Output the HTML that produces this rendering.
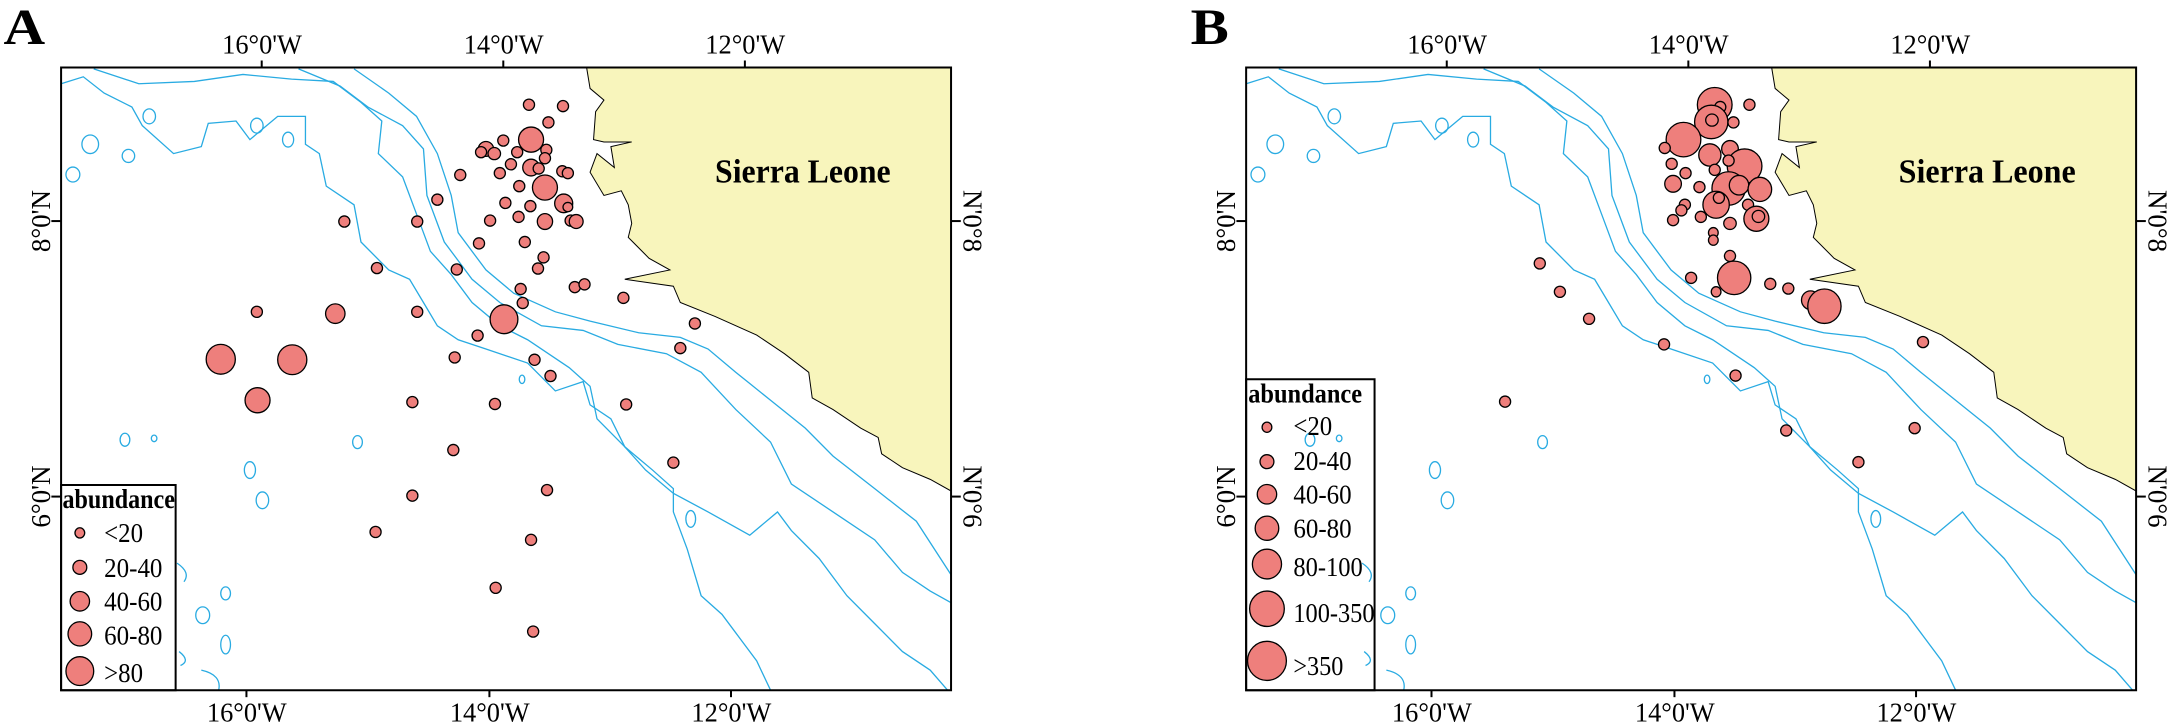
<!DOCTYPE html>
<html><head><meta charset="utf-8"><style>
html,body{margin:0;padding:0;background:#fff;}
svg{display:block;}
text{font-family:"Liberation Serif",serif;fill:#000;}
.c{fill:#ee7f7c;stroke:#000;stroke-width:1.3;vector-effect:non-scaling-stroke;}
.k{fill:none;stroke:#29abe2;stroke-width:1.3;vector-effect:non-scaling-stroke;}
.f{fill:none;stroke:#000;stroke-width:2;vector-effect:non-scaling-stroke;}
.l{fill:#f8f5bc;stroke:#000;stroke-width:1;vector-effect:non-scaling-stroke;}
</style></head><body>
<svg width="2167" height="726" viewBox="0 0 2167 726" xmlns="http://www.w3.org/2000/svg">
<defs>
<g id="map">
<path class="l" d="M845,145 L850,190 L870,215 L858,240 L855,300 L870,305 L910,305 L880,315 L885,360 L860,330 L850,370 L870,420 L895,410 L905,440 L910,480 L905,510 L935,555 L965,580 L900,600 L970,615 L980,650 L1030,680 L1090,720 L1130,760 L1165,800 L1170,855 L1200,880 L1240,920 L1265,940 L1270,975 L1300,1005 L1340,1030 L1370,1055 L1370,145 Z"/>
<path class="k" d="M510,148 L560,200 L600,250 L630,330 L650,420 L660,500 L700,580 L740,630 L800,670 L850,690 L920,715 L980,725 L1020,750 L1060,800 L1110,860 L1160,920 L1200,980 L1260,1050 L1320,1120 L1370,1235"/>
<path class="k" d="M430,148 L490,185 L530,230 L580,270 L610,320 L615,420 L640,520 L680,600 L720,650 L780,700 L840,710 L890,740 L960,760 L1010,800 L1060,880 L1110,950 L1140,1040 L1200,1100 L1260,1160 L1300,1230 L1340,1270 L1370,1295"/>
<path class="k" d="M135,148 L200,180 L280,175 L350,160 L420,170 L480,175 L520,220 L550,260 L545,330 L580,380 L600,460 L620,540 L650,590 L680,650 L720,700 L760,730 L790,760 L820,790 L850,830 L860,900 L900,960 L930,1010 L970,1060 L1020,1100 L1080,1150 L1120,1100 L1140,1140 L1180,1200 L1220,1280 L1260,1340 L1300,1400 L1340,1440 L1365,1483"/>
<path class="k" d="M88,180 L120,165 L150,200 L190,230 L205,270 L250,330 L290,315 L300,265 L340,260 L360,300 L400,250 L440,250 L440,310 L460,330 L470,400 L510,440 L520,520 L560,580 L590,600 L610,650 L630,700 L660,730 L700,750 L760,780 L800,840 L840,820 L850,870 L880,900 L900,960 L940,1010 L970,1050 L970,1100 L990,1180 L1010,1280 L1040,1320 L1060,1360 L1090,1420 L1110,1483"/>
<ellipse class="k" cx="130" cy="310" rx="12" ry="20"/>
<ellipse class="k" cx="105" cy="375" rx="10" ry="16"/>
<ellipse class="k" cx="215" cy="250" rx="9" ry="16"/>
<ellipse class="k" cx="185" cy="335" rx="9" ry="14"/>
<ellipse class="k" cx="370" cy="270" rx="9" ry="16"/>
<ellipse class="k" cx="415" cy="300" rx="8" ry="16"/>
<ellipse class="k" cx="180" cy="945" rx="7" ry="14"/>
<ellipse class="k" cx="222" cy="942" rx="4" ry="7"/>
<ellipse class="k" cx="515" cy="950" rx="7" ry="14"/>
<ellipse class="k" cx="360" cy="1010" rx="8" ry="18"/>
<ellipse class="k" cx="378" cy="1075" rx="9" ry="18"/>
<ellipse class="k" cx="325" cy="1275" rx="7" ry="14"/>
<ellipse class="k" cx="292" cy="1322" rx="10" ry="18"/>
<ellipse class="k" cx="325" cy="1385" rx="7" ry="20"/>
<ellipse class="k" cx="995" cy="1115" rx="7" ry="18"/>
<ellipse class="k" cx="752" cy="815" rx="4" ry="9"/>
<path class="k" d="M255,1210 Q275,1230 265,1250 M258,1400 Q275,1420 260,1430 M290,1440 Q320,1450 315,1483"/>
<rect class="f" x="88" y="145" width="1282" height="1338"/>
</g>
</defs>

<!-- Panel A -->
<g transform="scale(0.6942,0.4654)">
<use href="#map"/>
<line x1="377" y1="130" x2="377" y2="145" class="f"/><line x1="725" y1="130" x2="725" y2="145" class="f"/><line x1="1073" y1="130" x2="1073" y2="145" class="f"/>
<line x1="355" y1="1483" x2="355" y2="1498" class="f"/><line x1="705" y1="1483" x2="705" y2="1498" class="f"/><line x1="1053" y1="1483" x2="1053" y2="1498" class="f"/>
<line x1="74" y1="475" x2="88" y2="475" class="f"/><line x1="74" y1="1067" x2="88" y2="1067" class="f"/>
<line x1="1370" y1="475" x2="1384" y2="475" class="f"/><line x1="1370" y1="1067" x2="1384" y2="1067" class="f"/>
<text x="5" y="95" font-size="110" font-weight="bold" textLength="60" lengthAdjust="spacingAndGlyphs">A</text>
<text x="320" y="115" font-size="60" textLength="115" lengthAdjust="spacingAndGlyphs">16°0'W</text>
<text x="668" y="115" font-size="60" textLength="115" lengthAdjust="spacingAndGlyphs">14°0'W</text>
<text x="1016" y="115" font-size="60" textLength="115" lengthAdjust="spacingAndGlyphs">12°0'W</text>
<text x="298" y="1550" font-size="60" textLength="115" lengthAdjust="spacingAndGlyphs">16°0'W</text>
<text x="648" y="1550" font-size="60" textLength="115" lengthAdjust="spacingAndGlyphs">14°0'W</text>
<text x="996" y="1550" font-size="60" textLength="115" lengthAdjust="spacingAndGlyphs">12°0'W</text>
<g transform="translate(72,475) scale(1.4405,2.1487) rotate(-90)"><text x="0" y="0" font-size="27" text-anchor="middle">8°0'N</text></g>
<g transform="translate(72,1067) scale(1.4405,2.1487) rotate(-90)"><text x="0" y="0" font-size="27" text-anchor="middle">6°0'N</text></g>
<g transform="translate(1388,475) scale(1.4405,2.1487) rotate(90)"><text x="0" y="0" font-size="27" text-anchor="middle">N'0°8</text></g>
<g transform="translate(1388,1067) scale(1.4405,2.1487) rotate(90)"><text x="0" y="0" font-size="27" text-anchor="middle">N'0°6</text></g>
<text x="1030" y="392" font-size="72" font-weight="bold" textLength="253" lengthAdjust="spacingAndGlyphs">Sierra Leone</text>
<g>
<ellipse class="c" cx="762" cy="225" rx="8" ry="12"/><ellipse class="c" cx="811" cy="228" rx="8" ry="12"/><ellipse class="c" cx="790" cy="263" rx="8" ry="12"/>
<ellipse class="c" cx="765" cy="300" rx="18" ry="27"/><ellipse class="c" cx="725" cy="302" rx="8" ry="12"/><ellipse class="c" cx="787" cy="322" rx="8" ry="12"/>
<ellipse class="c" cx="700" cy="320" rx="11" ry="16"/><ellipse class="c" cx="712" cy="330" rx="9" ry="13"/><ellipse class="c" cx="693" cy="327" rx="8" ry="12"/>
<ellipse class="c" cx="745" cy="327" rx="8" ry="12"/><ellipse class="c" cx="785" cy="340" rx="8" ry="12"/><ellipse class="c" cx="736" cy="353" rx="8" ry="12"/>
<ellipse class="c" cx="765" cy="360" rx="12" ry="18"/><ellipse class="c" cx="776" cy="362" rx="8" ry="12"/><ellipse class="c" cx="720" cy="372" rx="8" ry="12"/>
<ellipse class="c" cx="810" cy="368" rx="8" ry="12"/><ellipse class="c" cx="818" cy="372" rx="8" ry="12"/><ellipse class="c" cx="663" cy="376" rx="8" ry="12"/>
<ellipse class="c" cx="785" cy="403" rx="18" ry="27"/><ellipse class="c" cx="748" cy="400" rx="8" ry="12"/><ellipse class="c" cx="812" cy="437" rx="13" ry="20"/>
<ellipse class="c" cx="818" cy="445" rx="7" ry="10"/><ellipse class="c" cx="728" cy="436" rx="8" ry="12"/><ellipse class="c" cx="764" cy="443" rx="8" ry="12"/>
<ellipse class="c" cx="630" cy="429" rx="8" ry="12"/><ellipse class="c" cx="496" cy="476" rx="8" ry="12"/><ellipse class="c" cx="601" cy="476" rx="8" ry="12"/>
<ellipse class="c" cx="706" cy="474" rx="8" ry="12"/><ellipse class="c" cx="747" cy="466" rx="8" ry="12"/><ellipse class="c" cx="785" cy="476" rx="11" ry="17"/>
<ellipse class="c" cx="822" cy="474" rx="8" ry="12"/><ellipse class="c" cx="830" cy="476" rx="10" ry="15"/><ellipse class="c" cx="690" cy="523" rx="8" ry="12"/>
<ellipse class="c" cx="756" cy="520" rx="8" ry="12"/><ellipse class="c" cx="783" cy="553" rx="8" ry="12"/><ellipse class="c" cx="775" cy="577" rx="8" ry="12"/>
<ellipse class="c" cx="543" cy="576" rx="8" ry="12"/><ellipse class="c" cx="658" cy="579" rx="8" ry="12"/><ellipse class="c" cx="750" cy="621" rx="8" ry="12"/>
<ellipse class="c" cx="753" cy="651" rx="8" ry="12"/><ellipse class="c" cx="828" cy="617" rx="8" ry="12"/><ellipse class="c" cx="842" cy="611" rx="8" ry="12"/>
<ellipse class="c" cx="898" cy="640" rx="8" ry="12"/><ellipse class="c" cx="370" cy="670" rx="8" ry="12"/><ellipse class="c" cx="483" cy="674" rx="14" ry="21"/>
<ellipse class="c" cx="601" cy="670" rx="8" ry="12"/><ellipse class="c" cx="726" cy="686" rx="20" ry="31"/><ellipse class="c" cx="688" cy="721" rx="8" ry="12"/>
<ellipse class="c" cx="1001" cy="695" rx="8" ry="12"/><ellipse class="c" cx="980" cy="748" rx="8" ry="12"/><ellipse class="c" cx="318" cy="772" rx="21" ry="32"/>
<ellipse class="c" cx="421" cy="773" rx="21" ry="32"/><ellipse class="c" cx="655" cy="768" rx="8" ry="12"/><ellipse class="c" cx="770" cy="773" rx="8" ry="12"/>
<ellipse class="c" cx="793" cy="808" rx="8" ry="12"/><ellipse class="c" cx="371" cy="860" rx="18" ry="27"/><ellipse class="c" cx="594" cy="864" rx="8" ry="12"/>
<ellipse class="c" cx="713" cy="868" rx="8" ry="12"/><ellipse class="c" cx="902" cy="869" rx="8" ry="12"/><ellipse class="c" cx="653" cy="967" rx="8" ry="12"/>
<ellipse class="c" cx="970" cy="994" rx="8" ry="12"/><ellipse class="c" cx="594" cy="1065" rx="8" ry="12"/><ellipse class="c" cx="788" cy="1053" rx="8" ry="12"/>
<ellipse class="c" cx="541" cy="1143" rx="8" ry="12"/><ellipse class="c" cx="765" cy="1160" rx="8" ry="12"/><ellipse class="c" cx="714" cy="1263" rx="8" ry="12"/>
<ellipse class="c" cx="768" cy="1357" rx="8" ry="12"/>
</g>
<rect x="88" y="1042" width="165" height="441" fill="#fff" class="f"/>
<text x="90" y="1092" font-size="58" font-weight="bold" textLength="162" lengthAdjust="spacingAndGlyphs">abundance</text>
<ellipse class="c" cx="115" cy="1145" rx="7" ry="11"/>
<ellipse class="c" cx="115" cy="1219" rx="10" ry="15"/>
<ellipse class="c" cx="115" cy="1292" rx="14" ry="21"/>
<ellipse class="c" cx="115" cy="1362" rx="17" ry="26"/>
<ellipse class="c" cx="115" cy="1442" rx="20" ry="31"/>
<text x="150" y="1165" font-size="58" textLength="56" lengthAdjust="spacingAndGlyphs">&lt;20</text>
<text x="150" y="1240" font-size="58" textLength="84" lengthAdjust="spacingAndGlyphs">20-40</text>
<text x="150" y="1312" font-size="58" textLength="84" lengthAdjust="spacingAndGlyphs">40-60</text>
<text x="150" y="1385" font-size="58" textLength="84" lengthAdjust="spacingAndGlyphs">60-80</text>
<text x="150" y="1465" font-size="58" textLength="56" lengthAdjust="spacingAndGlyphs">&gt;80</text>
</g>

<!-- Panel B -->
<g transform="translate(1083,0) scale(0.6942,0.4654)">
<g transform="translate(147,0)"><use href="#map"/></g>
<line x1="524" y1="130" x2="524" y2="145" class="f"/><line x1="872" y1="130" x2="872" y2="145" class="f"/><line x1="1220" y1="130" x2="1220" y2="145" class="f"/>
<line x1="502" y1="1483" x2="502" y2="1498" class="f"/><line x1="852" y1="1483" x2="852" y2="1498" class="f"/><line x1="1200" y1="1483" x2="1200" y2="1498" class="f"/>
<line x1="221" y1="475" x2="235" y2="475" class="f"/><line x1="221" y1="1067" x2="235" y2="1067" class="f"/>
<line x1="1517" y1="475" x2="1531" y2="475" class="f"/><line x1="1517" y1="1067" x2="1531" y2="1067" class="f"/>
<text x="155" y="95" font-size="110" font-weight="bold" textLength="55" lengthAdjust="spacingAndGlyphs">B</text>
<text x="467" y="115" font-size="60" textLength="115" lengthAdjust="spacingAndGlyphs">16°0'W</text>
<text x="815" y="115" font-size="60" textLength="115" lengthAdjust="spacingAndGlyphs">14°0'W</text>
<text x="1163" y="115" font-size="60" textLength="115" lengthAdjust="spacingAndGlyphs">12°0'W</text>
<text x="445" y="1550" font-size="60" textLength="115" lengthAdjust="spacingAndGlyphs">16°0'W</text>
<text x="795" y="1550" font-size="60" textLength="115" lengthAdjust="spacingAndGlyphs">14°0'W</text>
<text x="1143" y="1550" font-size="60" textLength="115" lengthAdjust="spacingAndGlyphs">12°0'W</text>
<g transform="translate(219,475) scale(1.4405,2.1487) rotate(-90)"><text x="0" y="0" font-size="27" text-anchor="middle">8°0'N</text></g>
<g transform="translate(219,1067) scale(1.4405,2.1487) rotate(-90)"><text x="0" y="0" font-size="27" text-anchor="middle">6°0'N</text></g>
<g transform="translate(1535,475) scale(1.4405,2.1487) rotate(90)"><text x="0" y="0" font-size="27" text-anchor="middle">N'0°8</text></g>
<g transform="translate(1535,1067) scale(1.4405,2.1487) rotate(90)"><text x="0" y="0" font-size="27" text-anchor="middle">N'0°6</text></g>
<text x="1175" y="392" font-size="72" font-weight="bold" textLength="255" lengthAdjust="spacingAndGlyphs">Sierra Leone</text>
<g>
<ellipse class="c" cx="910" cy="225" rx="25" ry="37"/><ellipse class="c" cx="918" cy="230" rx="8" ry="12"/><ellipse class="c" cx="905" cy="262" rx="24" ry="36"/>
<ellipse class="c" cx="906" cy="258" rx="9" ry="13"/><ellipse class="c" cx="960" cy="225" rx="8" ry="12"/><ellipse class="c" cx="937" cy="263" rx="8" ry="12"/>
<ellipse class="c" cx="865" cy="300" rx="25" ry="37"/><ellipse class="c" cx="838" cy="318" rx="8" ry="12"/><ellipse class="c" cx="932" cy="320" rx="12" ry="18"/>
<ellipse class="c" cx="903" cy="333" rx="16" ry="24"/><ellipse class="c" cx="953" cy="357" rx="25" ry="37"/><ellipse class="c" cx="930" cy="345" rx="8" ry="12"/>
<ellipse class="c" cx="848" cy="352" rx="8" ry="12"/><ellipse class="c" cx="910" cy="365" rx="8" ry="12"/><ellipse class="c" cx="868" cy="372" rx="8" ry="12"/>
<ellipse class="c" cx="850" cy="395" rx="12" ry="18"/><ellipse class="c" cx="888" cy="402" rx="8" ry="12"/><ellipse class="c" cx="930" cy="405" rx="24" ry="36"/>
<ellipse class="c" cx="945" cy="398" rx="14" ry="21"/><ellipse class="c" cx="975" cy="407" rx="17" ry="26"/><ellipse class="c" cx="912" cy="440" rx="19" ry="29"/>
<ellipse class="c" cx="916" cy="425" rx="8" ry="12"/><ellipse class="c" cx="958" cy="440" rx="8" ry="12"/><ellipse class="c" cx="867" cy="440" rx="8" ry="12"/>
<ellipse class="c" cx="862" cy="452" rx="8" ry="12"/><ellipse class="c" cx="890" cy="466" rx="8" ry="12"/><ellipse class="c" cx="970" cy="470" rx="18" ry="27"/>
<ellipse class="c" cx="973" cy="465" rx="9" ry="13"/><ellipse class="c" cx="932" cy="480" rx="9" ry="13"/><ellipse class="c" cx="850" cy="473" rx="8" ry="12"/>
<ellipse class="c" cx="908" cy="500" rx="7" ry="11"/><ellipse class="c" cx="908" cy="516" rx="7" ry="11"/><ellipse class="c" cx="932" cy="550" rx="8" ry="12"/>
<ellipse class="c" cx="938" cy="597" rx="24" ry="36"/><ellipse class="c" cx="876" cy="597" rx="8" ry="12"/><ellipse class="c" cx="912" cy="627" rx="7" ry="11"/>
<ellipse class="c" cx="990" cy="610" rx="8" ry="12"/><ellipse class="c" cx="1016" cy="620" rx="8" ry="12"/><ellipse class="c" cx="1048" cy="645" rx="13" ry="20"/>
<ellipse class="c" cx="1068" cy="658" rx="24" ry="37"/><ellipse class="c" cx="658" cy="566" rx="8" ry="12"/><ellipse class="c" cx="687" cy="627" rx="8" ry="12"/>
<ellipse class="c" cx="729" cy="685" rx="8" ry="12"/><ellipse class="c" cx="837" cy="740" rx="8" ry="12"/><ellipse class="c" cx="1210" cy="735" rx="8" ry="12"/>
<ellipse class="c" cx="940" cy="807" rx="8" ry="12"/><ellipse class="c" cx="608" cy="863" rx="8" ry="12"/><ellipse class="c" cx="1013" cy="925" rx="8" ry="12"/>
<ellipse class="c" cx="1198" cy="920" rx="8" ry="12"/><ellipse class="c" cx="1117" cy="993" rx="8" ry="12"/>
</g>
<rect x="235" y="815" width="185" height="668" fill="#fff" class="f"/>
<text x="238" y="865" font-size="58" font-weight="bold" textLength="164" lengthAdjust="spacingAndGlyphs">abundance</text>
<ellipse class="c" cx="265" cy="918" rx="7" ry="11"/>
<ellipse class="c" cx="265" cy="992" rx="10" ry="15"/>
<ellipse class="c" cx="265" cy="1062" rx="14" ry="21"/>
<ellipse class="c" cx="265" cy="1135" rx="17" ry="26"/>
<ellipse class="c" cx="265" cy="1212" rx="21" ry="32"/>
<ellipse class="c" cx="265" cy="1308" rx="25" ry="38"/>
<ellipse class="c" cx="265" cy="1420" rx="28" ry="42"/>
<text x="303" y="935" font-size="58" textLength="56" lengthAdjust="spacingAndGlyphs">&lt;20</text>
<text x="303" y="1010" font-size="58" textLength="84" lengthAdjust="spacingAndGlyphs">20-40</text>
<text x="303" y="1082" font-size="58" textLength="84" lengthAdjust="spacingAndGlyphs">40-60</text>
<text x="303" y="1155" font-size="58" textLength="84" lengthAdjust="spacingAndGlyphs">60-80</text>
<text x="303" y="1238" font-size="58" textLength="100" lengthAdjust="spacingAndGlyphs">80-100</text>
<text x="303" y="1337" font-size="58" textLength="117" lengthAdjust="spacingAndGlyphs">100-350</text>
<text x="303" y="1450" font-size="58" textLength="72" lengthAdjust="spacingAndGlyphs">&gt;350</text>
</g>
</svg>
</body></html>
